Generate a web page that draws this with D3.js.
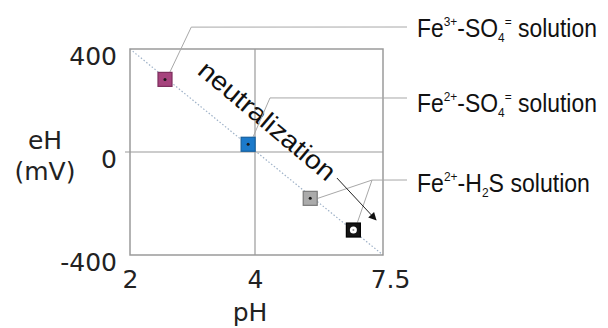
<!DOCTYPE html>
<html><head><meta charset="utf-8">
<script src="https://cdn.jsdelivr.net/npm/d3@7"></script>
<style>html,body{margin:0;padding:0;background:#fff;}svg{display:block;}</style>
</head><body>
<svg id="chart" width="608" height="328"></svg>
<script>
// ---- data ----
const samples = ["Fe3+-SO4= solution", "Fe2+-SO4= solution", "Fe2+-H2S gray", "Fe2+-H2S black"];
const pHValues = [2.56, 3.89, 5.51, 6.69];
const eHValues = [282, 30, -180, -303];
const xTicks = [2, 4, 7.5];
const yTicks = [400, 0, -400];
// annotation anchors (data units)
const elbowPH = [2.98, 4.41, 7.2];
const elbowEH = [485, 210, -109];
const arrowPH = [6.24, 7.31];
const arrowEH = [-101, -264];
const neutralPH = 4.3, neutralEH = 116;

// ---- styles ----
const fills = ["#a6437d", "#1b7acb", "#ababab", "#141414"];
const strokes = ["#7d2f5e", "#155f9e", "#7a7a7a", "#000"];

const svg = d3.select("#chart");
const x = d3.scaleLinear().domain([2, 4, 7.5]).range([130, 255, 383]);
const y = d3.scaleLinear().domain([-400, 400]).range([255, 49]);
const gridC = "#9a9a9a";

// diagonal dotted line
svg.append("line")
  .attr("x1", x(2)).attr("y1", y(400)).attr("x2", x(7.5)).attr("y2", y(-400))
  .attr("stroke", "#9fb2c8").attr("stroke-width", 1.2).attr("stroke-dasharray", "1.5,2");

// grid lines
svg.append("line").attr("x1", x(4)).attr("x2", x(4)).attr("y1", y(400)).attr("y2", y(-400))
  .attr("stroke", gridC).attr("stroke-width", 1.2);
svg.append("line").attr("x1", x(2) - 5).attr("x2", x(7.5)).attr("y1", y(0)).attr("y2", y(0))
  .attr("stroke", gridC).attr("stroke-width", 1.2);

// frame
svg.append("rect").attr("x", x(2)).attr("y", y(400))
  .attr("width", x(7.5) - x(2)).attr("height", y(-400) - y(400))
  .attr("fill", "none").attr("stroke", gridC).attr("stroke-width", 1.5);

// axes
const ax = svg.append("g").attr("transform", `translate(0,${y(-400)})`)
  .call(d3.axisBottom(x).tickValues(xTicks).tickSize(0).tickPadding(15).tickFormat(d => String(d)));
const ay = svg.append("g").attr("transform", `translate(${x(2)},0)`)
  .call(d3.axisLeft(y).tickValues(yTicks).tickSize(0).tickPadding(13).tickFormat(d => String(d)));
[ax, ay].forEach(g => {
  g.select(".domain").remove();
  g.selectAll("text").attr("font-family", "DejaVu Sans").attr("font-size", 25).attr("fill", "#222");
});
ay.selectAll("text").attr("dy", "0.6em");
ax.selectAll("text").filter(d => d === 7.5).attr("dx", 7);

// axis titles
svg.append("text").attr("x", 250).attr("y", 321).attr("text-anchor", "middle")
  .attr("font-family", "DejaVu Sans").attr("font-size", 25).attr("fill", "#222").text("pH");
svg.append("text").attr("x", 45).attr("y", 149).attr("text-anchor", "middle")
  .attr("font-family", "DejaVu Sans").attr("font-size", 25).attr("fill", "#222").text("eH");
svg.append("text").attr("x", 45).attr("y", 180).attr("text-anchor", "middle")
  .attr("font-family", "DejaVu Sans").attr("font-size", 25).attr("fill", "#222").text("(mV)");

// neutralization text
svg.append("text")
  .attr("transform", `translate(${x(neutralPH)},${y(neutralEH)}) rotate(40)`)
  .attr("text-anchor", "middle").attr("dy", "0.27em")
  .attr("font-family", "Liberation Sans").attr("font-size", 26).attr("fill", "#111")
  .attr("textLength", 170).attr("lengthAdjust", "spacingAndGlyphs")
  .text("neutralization");

// leader lines
const leaderC = "#a8a8a8";
const half = 7.5;
const labelX = 417;
const labelBase = [37, 112, 192];
const labelLineY = [27, 98, 180];
function path(pts) { return d3.line()(pts); }
svg.append("path").attr("d", path([[x(pHValues[0]) + 5, y(eHValues[0]) - half], [x(elbowPH[0]), y(elbowEH[0])], [labelX - 10, labelLineY[0]]]))
  .attr("fill", "none").attr("stroke", leaderC).attr("stroke-width", 1);
svg.append("path").attr("d", path([[x(pHValues[1]) + 5, y(eHValues[1]) - half], [x(elbowPH[1]), y(elbowEH[1])], [labelX - 10, labelLineY[1]]]))
  .attr("fill", "none").attr("stroke", leaderC).attr("stroke-width", 1);
svg.append("path").attr("d", path([[x(pHValues[2]) + half, y(eHValues[2])], [x(elbowPH[2]), y(elbowEH[2])], [labelX - 10, labelLineY[2]]]))
  .attr("fill", "none").attr("stroke", leaderC).attr("stroke-width", 1);
svg.append("path").attr("d", path([[x(pHValues[3]) + 4, y(eHValues[3]) - half], [x(elbowPH[2]), y(elbowEH[2])]]))
  .attr("fill", "none").attr("stroke", leaderC).attr("stroke-width", 1);

// arrow
svg.append("defs").append("marker").attr("id", "ah").attr("viewBox", "0 0 10 10")
  .attr("refX", 9).attr("refY", 5).attr("markerWidth", 10).attr("markerHeight", 8)
  .attr("markerUnits", "userSpaceOnUse").attr("orient", "auto")
  .append("path").attr("d", "M0,0L10,5L0,10Z").attr("fill", "#111");
svg.append("line").attr("x1", x(arrowPH[0])).attr("y1", y(arrowEH[0]))
  .attr("x2", x(arrowPH[1])).attr("y2", y(arrowEH[1]))
  .attr("stroke", "#222").attr("stroke-width", 1).attr("marker-end", "url(#ah)");

// points
const pts = svg.append("g").selectAll("g").data(pHValues.map((p, i) => ({p, e: eHValues[i], i})))
  .join("g").attr("transform", d => `translate(${x(d.p)},${y(d.e)})`);
pts.append("rect").attr("x", -7).attr("y", -7).attr("width", 14).attr("height", 14)
  .attr("fill", d => fills[d.i]).attr("stroke", d => strokes[d.i]).attr("stroke-width", 1.2);
pts.filter(d => d.i < 3).append("circle").attr("r", 1.5).attr("fill", "#1a1a1a");
pts.filter(d => d.i === 3).append("circle").attr("r", 3.5).attr("fill", "#fff");
pts.filter(d => d.i === 3).append("circle").attr("r", 1).attr("fill", "#999");

// right-side labels
const labelParts = [
  [["Fe", 0], ["3+", 1], ["-SO", 0], ["4", -1], ["=", 1], [" solution", 0]],
  [["Fe", 0], ["2+", 1], ["-SO", 0], ["4", -1], ["=", 1], [" solution", 0]],
  [["Fe", 0], ["2+", 1], ["-H", 0], ["2", -1], ["S solution", 0]]
];
const labelWidths = [180, 180, 173];
labelParts.forEach((parts, k) => {
  const t = svg.append("text").attr("font-family", "Liberation Sans").attr("fill", "#111")
    .attr("font-size", 25);
  let cur = 0;
  parts.forEach(([s, kind]) => {
    const target = kind === 1 ? -11 : kind === -1 ? 5 : 0;
    t.append("tspan").attr("dy", target - cur).attr("font-size", kind === 0 ? 25 : 13)
      .text(s);
    cur = target;
  });
  const w = t.node().getBBox().width;
  t.attr("transform", `translate(${labelX},${labelBase[k]}) scale(${labelWidths[k] / w},1)`);
});
</script>
</body></html>
